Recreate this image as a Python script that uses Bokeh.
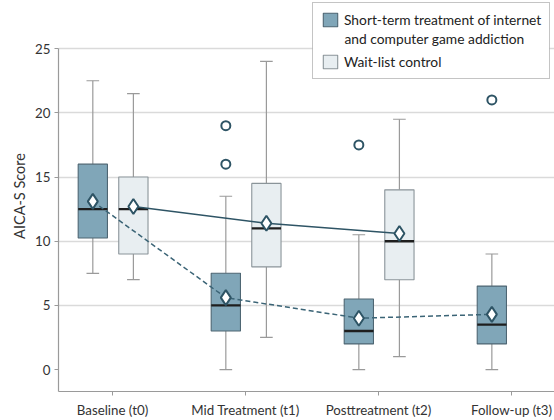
from bokeh.plotting import figure
from bokeh.models import FixedTicker, Legend, LegendItem, ColumnDataSource
from bokeh.core.properties import value
from bokeh.embed import file_html
from bokeh.resources import INLINE

# ---------------- data ----------------
timepoints = ["Baseline (t0)", "Mid Treatment (t1)", "Posttreatment (t2)", "Follow-up (t3)"]
y_ticks = [0, 5, 10, 15, 20, 25]
legend_trt_line1 = "Short-term treatment of internet"
legend_trt_line2 = "and computer game addiction"
legend_ctl = "Wait-list control"

# short-term treatment group (t0..t3)
trt_low = [7.5, 0.0, 0.0, 0.0]
trt_q1 = [10.25, 3.0, 2.0, 2.0]
trt_med = [12.5, 5.0, 3.0, 3.5]
trt_q3 = [16.0, 7.5, 5.5, 6.5]
trt_high = [22.5, 13.5, 10.5, 9.0]
trt_mean = [13.1, 5.6, 4.0, 4.3]
trt_out_time = [1, 1, 2, 3]
trt_out_val = [19.0, 16.0, 17.5, 21.0]

# wait-list control group (t0..t2)
ctl_low = [7.0, 2.5, 1.0]
ctl_q1 = [9.0, 8.0, 7.0]
ctl_med = [12.5, 11.0, 10.0]
ctl_q3 = [15.0, 14.5, 14.0]
ctl_high = [21.5, 24.0, 19.5]
ctl_mean = [12.7, 11.4, 10.6]

# ---------------- styling / layout ----------------
FONT = "Lato"
FS_AX = "13.3px"
FS_LEG = "13.8px"
TRT_FILL = "#80a6b8"
TRT_LINE = "#4e6673"
CTL_FILL = "#e8eef1"
CTL_LINE = "#8a9499"
WHISK = "#9a9a9a"
MEAN_C = "#2e5465"
OFF_T = -0.148
OFF_C = 0.157
BOX_W = 0.22
CAP_W = 0.095

W, H = 554, 420
B_LEFT, B_BOTTOM = 58, 28
X_START, X_END = -0.406, 3.323
Y_MIN, Y_MAX, Y_TOP_TICK = -1.71, 28.75, 25.0
FRAME_W, FRAME_H = W - B_LEFT, H - B_BOTTOM


def sx(px):  # canvas pixel -> data x
    return X_START + (px - B_LEFT) * (X_END - X_START) / FRAME_W


def sy(py):  # canvas pixel -> data y
    return Y_MIN + (FRAME_H - py) * (Y_MAX - Y_MIN) / FRAME_H


# frame reaches the top of the canvas so the legend (which overlaps the
# area above the 25 gridline) is not clipped; 25 still sits ~48px down.
p = figure(width=W, height=H, output_backend="svg", toolbar_location=None,
           x_range=(X_START, X_END), y_range=(Y_MIN, Y_MAX),
           min_border_left=B_LEFT, min_border_top=0, min_border_bottom=B_BOTTOM, min_border_right=0)
p.outline_line_color = None
p.background_fill_color = "white"
p.border_fill_color = "white"

# grid
p.xgrid.visible = False
p.ygrid.ticker = FixedTicker(ticks=[5, 10, 15, 20, 25])
p.ygrid.grid_line_color = "#dadada"
p.ygrid.grid_line_width = 1.6

# axes
p.xaxis.ticker = FixedTicker(ticks=list(range(len(timepoints))))
p.xaxis.major_label_overrides = {i: t for i, t in enumerate(timepoints)}
p.yaxis.ticker = FixedTicker(ticks=y_ticks)
p.yaxis.bounds = (Y_MIN, Y_TOP_TICK)
for ax in (p.xaxis, p.yaxis):
    ax.axis_line_color = "#9a9a9a"
    ax.axis_line_width = 1.2
    ax.major_tick_line_color = "#9a9a9a"
    ax.major_tick_out = 4
    ax.major_tick_in = 0
    ax.minor_tick_line_color = None
    ax.major_label_text_font = FONT
    ax.major_label_text_font_size = FS_AX
    ax.major_label_text_color = "#333333"
p.xaxis.major_label_standoff = 6
p.yaxis.major_label_standoff = 4
p.yaxis.axis_label = "AICA-S Score"
p.yaxis.axis_label_text_font = FONT
p.yaxis.axis_label_text_font_style = "normal"
p.yaxis.axis_label_text_font_size = "14.5px"
p.yaxis.axis_label_text_color = "#333333"
p.yaxis.axis_label_standoff = 4


def draw_group(n, offset, low, q1, med, q3, high, fill, line):
    xs = [i + offset for i in range(n)]
    src = ColumnDataSource(dict(x=xs, low=low, q1=q1, med=med, q3=q3, high=high,
                                cl=[x - CAP_W / 2 for x in xs], cr=[x + CAP_W / 2 for x in xs],
                                ml=[x - BOX_W / 2 for x in xs], mr=[x + BOX_W / 2 for x in xs]))
    p.segment(x0="x", y0="q3", x1="x", y1="high", source=src, line_color=WHISK, line_width=1.2)
    p.segment(x0="x", y0="q1", x1="x", y1="low", source=src, line_color=WHISK, line_width=1.2)
    p.segment(x0="cl", y0="high", x1="cr", y1="high", source=src, line_color=WHISK, line_width=1.2)
    p.segment(x0="cl", y0="low", x1="cr", y1="low", source=src, line_color=WHISK, line_width=1.2)
    box = p.vbar(x="x", width=BOX_W, bottom="q1", top="q3", source=src,
                 fill_color=fill, line_color=line, line_width=1.1)
    p.segment(x0="ml", y0="med", x1="mr", y1="med", source=src, line_color="#1e1e1e", line_width=2.4)
    return box


trt_box = draw_group(len(trt_med), OFF_T, trt_low, trt_q1, trt_med, trt_q3, trt_high, TRT_FILL, TRT_LINE)
ctl_box = draw_group(len(ctl_med), OFF_C, ctl_low, ctl_q1, ctl_med, ctl_q3, ctl_high, CTL_FILL, CTL_LINE)

# mean lines
trt_mx = [i + OFF_T for i in range(len(trt_mean))]
ctl_mx = [i + OFF_C for i in range(len(ctl_mean))]
p.line(trt_mx, trt_mean, line_color="#3b6476", line_width=1.5, line_dash="5 3")
p.line(ctl_mx, ctl_mean, line_color=MEAN_C, line_width=1.5)
p.scatter(trt_mx, trt_mean, marker="diamond", size=15, fill_color="white", line_color=MEAN_C, line_width=2)
p.scatter(ctl_mx, ctl_mean, marker="diamond", size=15, fill_color="white", line_color=MEAN_C, line_width=2)

# outliers
p.scatter([t + OFF_T for t in trt_out_time], trt_out_val, marker="circle", size=9,
          fill_color=None, line_color=MEAN_C, line_width=2)

# legend background (white, hides the 25 gridline) and the wrapped second line
p.quad(left=[sx(312)], right=[sx(549)], top=[sy(4)], bottom=[sy(81)],
       fill_color="white", line_color=None)
p.text(x=[sx(344)], y=[sy(38.5)], text=[legend_trt_line2],
       text_font=value(FONT), text_font_size=value(FS_LEG), text_color="#222222",
       text_baseline="middle", text_align="left")

# legend (bottom-left corner given in screen px from the frame's bottom-left)
legend = Legend(items=[
    LegendItem(label=legend_trt_line1, renderers=[trt_box]),
    LegendItem(label=legend_ctl, renderers=[ctl_box]),
], location=(254, 312))
legend.label_text_font = FONT
legend.label_text_font_size = FS_LEG
legend.label_text_color = "#222222"
legend.glyph_width = 18
legend.glyph_height = 17
legend.label_standoff = 5
legend.padding = 8
legend.spacing = 25
legend.margin = 0
legend.border_line_color = "#8a8a8a"
legend.border_line_width = 1
legend.background_fill_alpha = 0.0
p.add_layout(legend, "center")

open("out.html", "w").write(file_html(p, INLINE))
